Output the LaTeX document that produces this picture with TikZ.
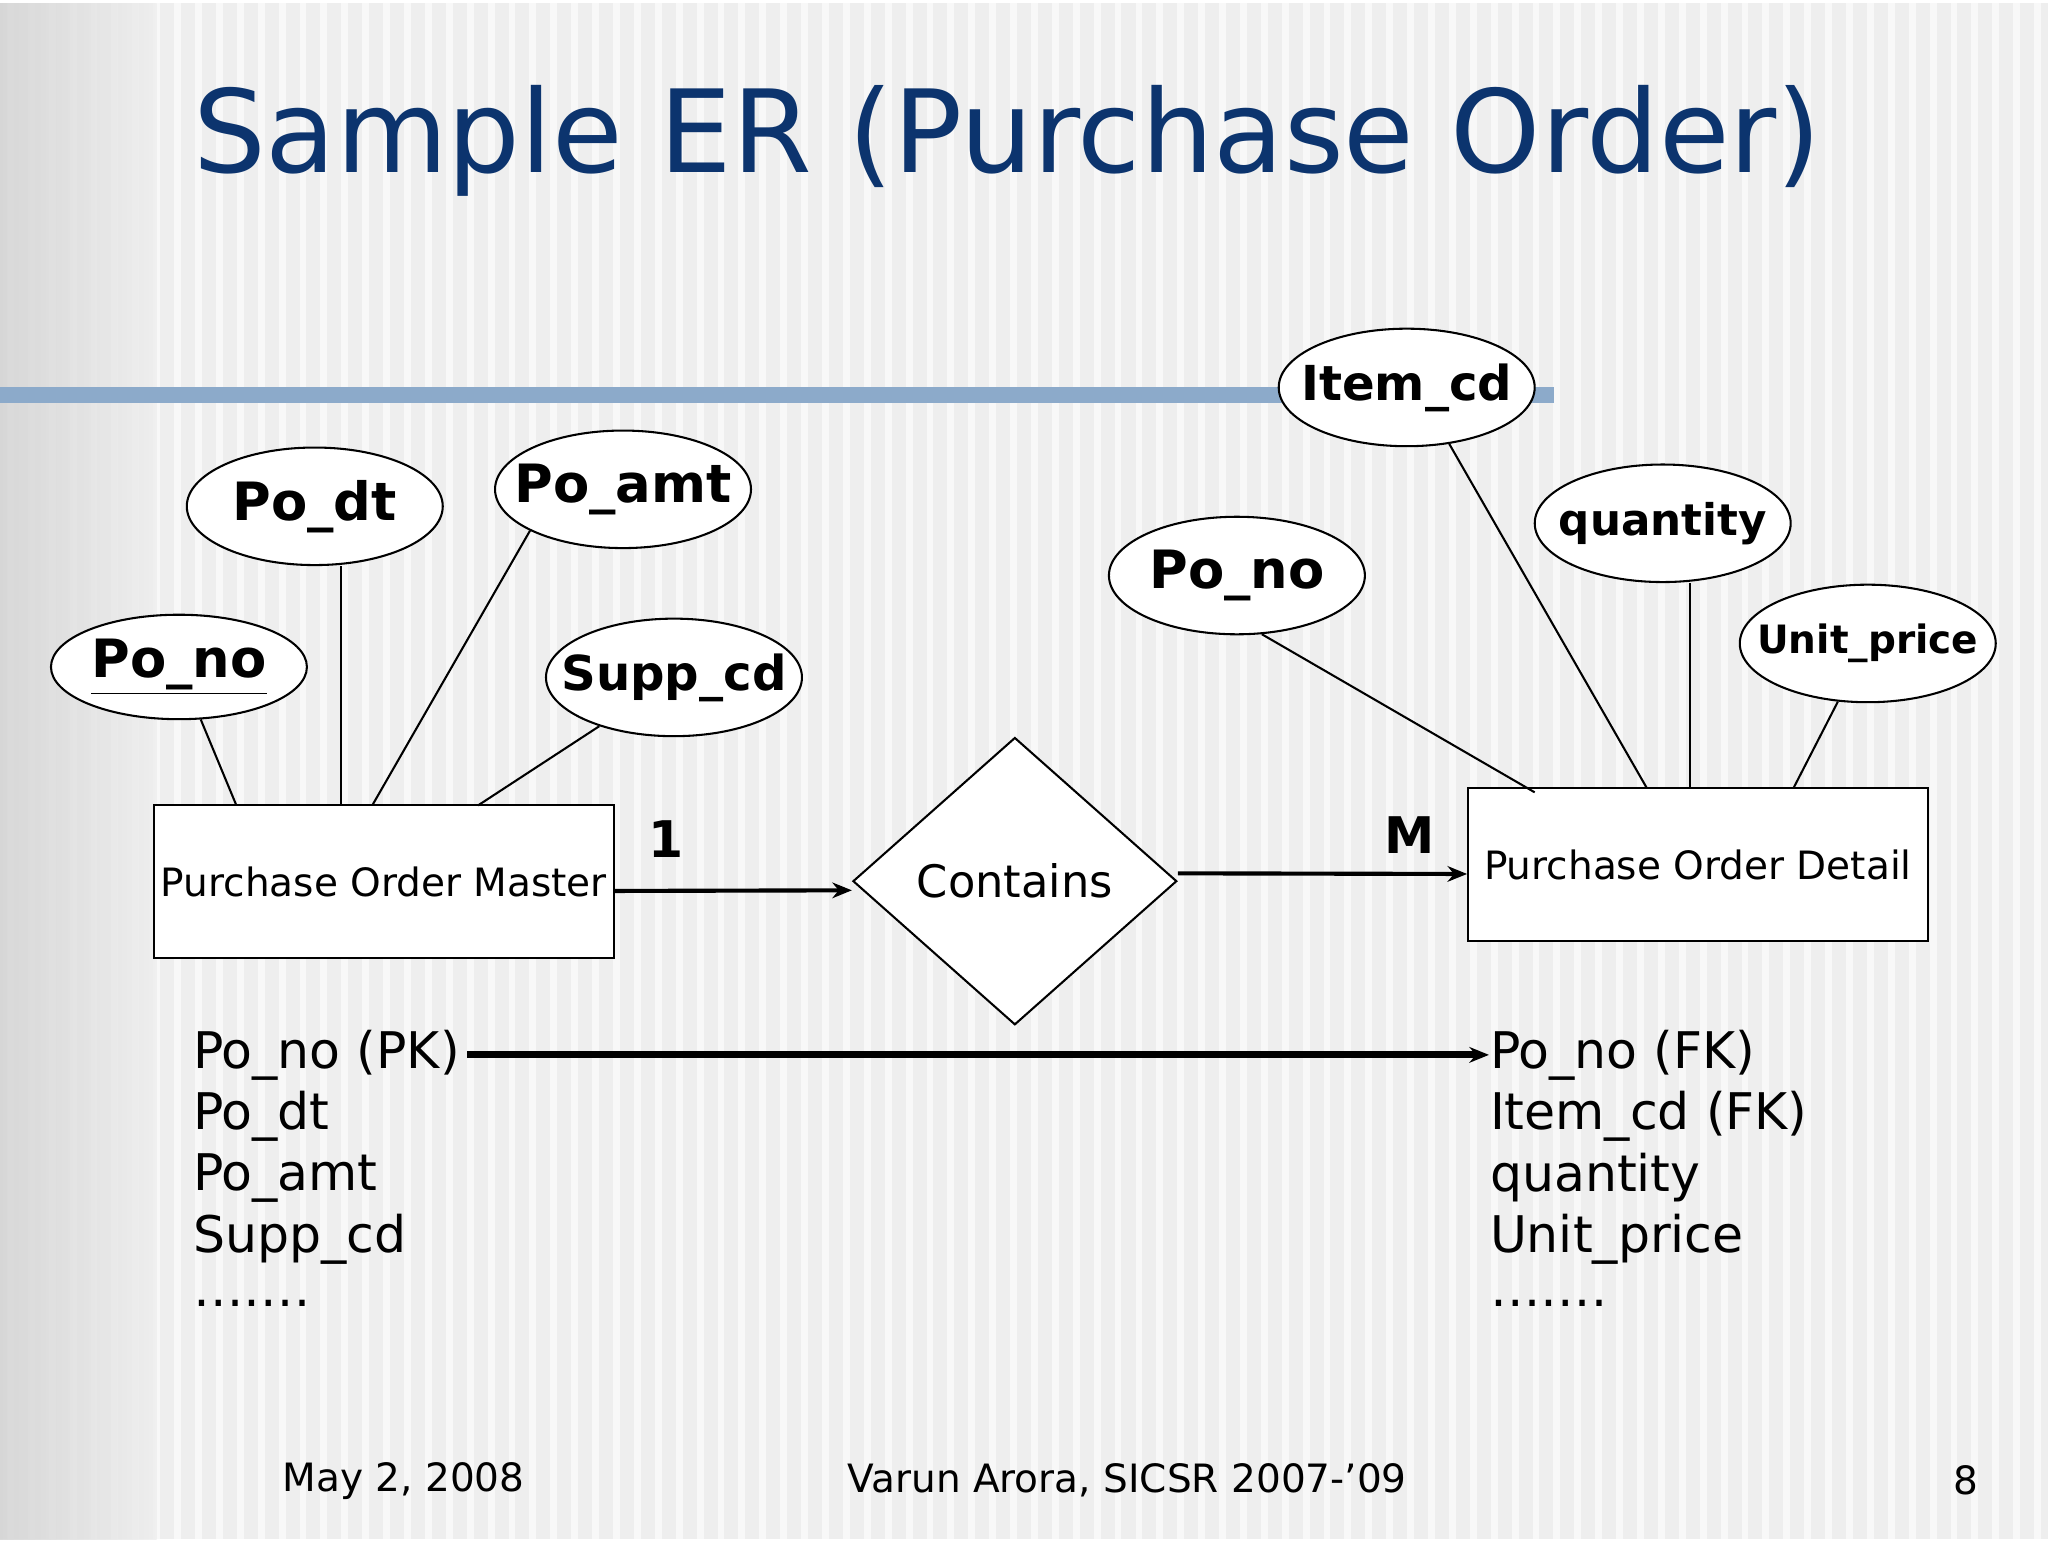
\documentclass[tikz,border=0pt]{standalone}
\usepackage{fontspec}
\setmainfont{DejaVu Sans}
\usetikzlibrary{shapes.geometric,arrows.meta}
\definecolor{titleblue}{RGB}{12, 52, 110}
\definecolor{barblue}{RGB}{140, 170, 202}
\definecolor{slidegray}{RGB}{238, 238, 238}

\begin{document}
\begin{tikzpicture}[
    x=0.02cm, y=-0.02cm, line width=0.9pt,
    attr/.style={ellipse, draw, fill=white, minimum width=3.92cm, minimum height=1.8cm, inner xsep=-0.8cm, inner ysep=-0.2cm, font=\fontsize{21}{25}\selectfont\bfseries},
    entity/.style={rectangle, draw, fill=white, minimum width=7.04cm, minimum height=2.34cm, inner sep=0pt, font=\fontsize{17}{20}\selectfont},
    relation/.style={diamond, draw, fill=white, minimum width=4.96cm, minimum height=4.4cm, inner sep=0pt, font=\fontsize{19.5}{23}\selectfont},
    arrow/.style={-{Stealth[length=0.3cm,width=0.24cm]}, line width=1.6pt},
    list/.style={anchor=west, inner sep=0pt, font=\fontsize{22}{26}\selectfont},
    foot/.style={inner sep=0pt, font=\fontsize{17}{20}\selectfont}
]
    % Background
    \fill[slidegray] (0,0) rectangle (1568,1176);
    \foreach \i in {0,...,97} \draw[white, line width=3pt, opacity=0.6] (16*\i+8,0) -- (16*\i+8,1176);
    \shade[left color=black!18, right color=slidegray, opacity=0.8] (0,0) rectangle (120,1176);
    \fill[barblue] (0,294) rectangle (1190,306);

    % Title
    \node[text=titleblue, font=\fontsize{50}{56}\selectfont, anchor=west, inner sep=0pt] (title) at (147,105) {Sample ER (Purchase Order)};

    % Entities and relationship
    \node[entity] (pom) at (294,672.5) {Purchase Order Master};
    \node[entity] (pod) at (1300,659.5) {Purchase Order Detail};
    \node[relation] (contains) at (777,672) {Contains};

    % Attributes of master
    \node[attr, minimum height=1.6cm, font=\fontsize{23}{27}\selectfont\bfseries] (pono) at (137,508) {\underline{Po\_no}};
    \node[attr, font=\fontsize{23}{27}\selectfont\bfseries] (podt) at (241,385) {Po\_dt};
    \node[attr, font=\fontsize{23}{27}\selectfont\bfseries] (poamt) at (477,372) {Po\_amt};
    \node[attr] (suppcd) at (516,516) {Supp\_cd};

    % Attributes of detail
    \node[attr, font=\fontsize{23}{27}\selectfont\bfseries] (dpono) at (947,438) {Po\_no};
    \node[attr] (itemcd) at (1077,294) {Item\_cd};
    \node[attr, font=\fontsize{19}{22}\selectfont\bfseries] (qty) at (1273,398) {quantity};
    \node[attr, font=\fontsize{17}{20}\selectfont\bfseries] (uprice) at (1430,490) {Unit\_price};

    % Attachment points
    \coordinate (m1) at (181,614);
    \coordinate (m2) at (261,614);
    \coordinate (m3) at (285,614);
    \coordinate (m4) at (366,614);
    \coordinate (d1) at (1175,604);
    \coordinate (d2) at (1261,601);
    \coordinate (d3) at (1294,601);
    \coordinate (d4) at (1373,601);

    % Attribute lines
    \draw (pono) -- (m1);
    \draw (podt.south -| m2) -- (m2);
    \draw (poamt.204) -- (m3);
    \draw (suppcd) -- (m4);
    \draw (dpono.293) -- (d1);
    \draw (itemcd.307) -- (d2);
    \draw (qty.south -| d3) -- (d3);
    \draw (uprice) -- (d4);

    % Connections
    \draw[arrow, line width=1.8pt] ([yshift=-0.14cm]pom.east) -- ([yshift=-0.14cm]contains.west);
    \draw[arrow, line width=1.8pt] ([yshift=0.12cm]contains.east) -- ([yshift=-0.14cm]pod.west);
    \node[font=\fontsize{22}{26}\selectfont\bfseries] (one) at (510,640) {1};
    \node[font=\fontsize{22}{26}\selectfont\bfseries] (many) at (1079,637) {M};

    % Key lists
    \node[list] (pk1) at (147,805) {Po\_no (PK)};
    \node[list] (pk2) at (147,852) {Po\_dt};
    \node[list] (pk3) at (147,899) {Po\_amt};
    \node[list] (pk4) at (147,946) {Supp\_cd};
    \node[list] (pk5) at (147,995) {…….};
    \node[list] (fk1) at (1140,805) {Po\_no (FK)};
    \node[list] (fk2) at (1140,852) {Item\_cd (FK)};
    \node[list] (fk3) at (1140,899) {quantity};
    \node[list] (fk4) at (1140,946) {Unit\_price};
    \node[list] (fk5) at (1140,995) {…….};
    \draw[arrow, line width=3pt] ([xshift=0.1cm]pk1.east) -- (fk1.west);

    % Footer
    \node[foot] (date) at (309,1131) {May 2, 2008};
    \node[foot] (author) at (863,1131) {Varun Arora, SICSR 2007-'09};
    \node[foot] (page) at (1505,1131) {8};
\end{tikzpicture}
\end{document}
